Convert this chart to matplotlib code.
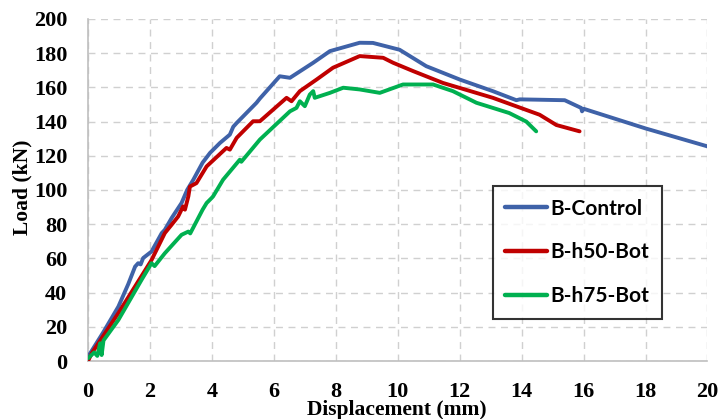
import matplotlib
matplotlib.use("Agg")
import matplotlib.pyplot as plt
from matplotlib.lines import Line2D

# ── Data (displacement mm, load kN) ──────────────────────────────────────────
ctrl_x = [0.0, 0.5, 0.98, 1.3, 1.52, 1.62, 1.7, 1.78, 2.05, 2.38, 2.48, 2.7,
          3.02, 3.2, 3.4, 3.7, 3.94, 4.26, 4.58, 4.69, 4.8, 5.44, 5.55, 6.19,
          6.52, 7.27, 7.81, 8.77, 9.2, 10.06, 10.92, 12.0, 13.07, 13.83, 13.94,
          15.39, 15.92, 15.95, 16.0, 18.0, 20.0]
ctrl_y = [2.5, 17, 31.8, 45, 55.2, 57.2, 56.5, 60.2, 64, 74.8, 76.7, 83.6,
          92.4, 100, 106, 116, 121.7, 127.5, 132.4, 137, 139.2, 151, 153.5, 166.5,
          165.6, 174.4, 181.2, 186.1, 186, 182, 172.4, 164.6, 157.8, 152.5, 153,
          152.5, 148, 146, 147.5, 136, 125.5]

h50_x = [0.0, 0.12, 0.98, 1.45, 2.05, 2.48, 2.7, 2.91, 3.07, 3.13, 3.24, 3.29,
         3.5, 3.83, 4.47, 4.58, 4.8, 5.33, 5.55, 6.41, 6.57, 6.84, 7.38, 7.91,
         8.77, 9.53, 9.85, 10.5, 11.46, 13.07, 14.58, 15.12, 15.87]
h50_y = [0.0, 4.5, 28, 41.6, 59, 74.8, 79.7, 84.5, 90.4, 88.5, 96.3, 102,
         104, 113.8, 124.6, 123.6, 130.5, 140.2, 140.2, 153.9, 151.9, 157.8, 164.6, 171.5,
         178.3, 177.3, 174.4, 169.5, 162.6, 153.9, 144, 138, 134.3]

h75_x = [0.0, 0.2, 0.3, 0.39, 0.44, 0.5, 0.98, 1.73, 2.05, 2.15, 2.48, 3.02,
         3.24, 3.3, 3.7, 3.83, 3.99, 4.04, 4.36, 4.9, 4.95, 5.55, 6.52, 6.73,
         6.84, 7.0, 7.16, 7.27, 7.32, 7.81, 8.24, 8.77, 9.42, 10.17, 11.14,
         11.78, 12.54, 13.6, 14.15, 14.47]
h75_y = [1.6, 5, 3, 10.4, 3.5, 12, 24, 47.5, 57.2, 55.5, 63, 73.8,
         75.7, 74.6, 88.5, 92.4, 95.3, 96.3, 106, 117.7, 116.5, 129.5, 146, 148,
         151.9, 149, 155.8, 157.8, 153.9, 156.8, 159.8, 158.8, 156.8, 161.7, 161.7,
         157.8, 151, 145, 140, 134.3]

series = [
    ("B-Control", ctrl_x, ctrl_y, "#3F62A8"),
    ("B-h50-Bot", h50_x, h50_y, "#C00000"),
    ("B-h75-Bot", h75_x, h75_y, "#00B050"),
]

x_ticks = list(range(0, 21, 2))
y_ticks = list(range(0, 201, 20))

fig = plt.figure(figsize=(7.19, 4.19), dpi=100)
ax = fig.add_axes([0.1224, 0.1384, 0.8616, 0.8163])

for label, xs, ys, color in series:
    ax.plot(xs, ys, color=color, lw=2.8, solid_joinstyle="round",
            solid_capstyle="round", label=label, zorder=3)

ax.set_xlim(0, 20)
ax.set_ylim(0, 200)
ax.set_xticks(x_ticks)
ax.set_yticks(y_ticks)
ax.grid(True, color="#D0D0D0", linestyle=(0, (5, 4)), linewidth=1.0, zorder=0)

for side in ("top", "right"):
    ax.spines[side].set_visible(False)
for side in ("left", "bottom"):
    ax.spines[side].set_color("#BFBFBF")
    ax.spines[side].set_linewidth(1.2)

ax.tick_params(length=0, pad=15)
for lbl in ax.get_xticklabels() + ax.get_yticklabels():
    lbl.set_fontfamily("Liberation Serif")
    lbl.set_fontweight("bold")
    lbl.set_fontsize(16)

ax.set_xlabel("Displacement (mm)", family="Liberation Serif", fontweight="bold",
              fontsize=15.5)
ax.set_ylabel("Load (kN)", family="Liberation Serif", fontweight="bold",
              fontsize=15.5)
ax.xaxis.set_label_coords(0.499, -0.114)
ax.yaxis.set_label_coords(-0.090, 0.507)

handles = [Line2D([], [], color=c, lw=3.2, solid_capstyle="round") for _, _, _, c in series]
leg = ax.legend(handles, [s[0] for s in series], loc="lower left",
                bbox_to_anchor=(0.6535, 0.123, 0.2727, 0.416), mode="expand",
                frameon=True, fancybox=False, edgecolor="black",
                prop={"family": "Lato", "weight": "bold", "size": 15},
                handlelength=2.0, handletextpad=0.15, labelspacing=1.15,
                borderpad=0.6, borderaxespad=0)
leg.get_frame().set_linewidth(1.5)

fig.savefig("out.png", dpi=100)
